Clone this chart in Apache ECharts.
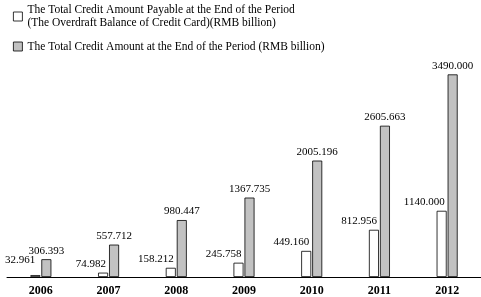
<!DOCTYPE html>
<html>
<head>
<meta charset="utf-8">
<script src="https://cdn.jsdelivr.net/npm/echarts@6/dist/echarts.min.js"></script>
<style>
  html, body { margin: 0; padding: 0; background: #fff; }
  #chart { width: 481px; height: 297px; }
</style>
</head>
<body>
<div id="chart"></div>
<script>
// 数据
var years = ["2006", "2007", "2008", "2009", "2010", "2011", "2012"];
var payable = [32.961, 74.982, 158.212, 245.758, 449.16, 812.956, 1140.0];
var total = [306.393, 557.712, 980.447, 1367.735, 2005.196, 2605.663, 3490.0];
var nameA = "The Total Credit Amount Payable at the End of the Period\n(The Overdraft Balance of Credit Card)(RMB billion)";
var nameB = "The Total Credit Amount at the End of the Period (RMB billion)";

(function () {
  var myChart = echarts.init(document.getElementById("chart"));
  var font = "'Liberation Serif', 'DejaVu Serif', serif";
  // 三位小数
  var fmt = function (p) {
    return Number(p.value).toFixed(3);
  };

  // 2006 的白色标签往左上挪，避免和灰色标签重叠
  var payableData = payable.map(function (v, i) {
    if (i === 0) return { value: v, label: { offset: [-5, -6] } };
    return v;
  });

  var option = {
    animation: false,
    textStyle: { fontFamily: font },
    legend: {
      orient: "vertical",
      left: 8,
      top: -8,
      itemWidth: 9,
      itemHeight: 9,
      itemGap: 4,
      icon: "rect",
      itemStyle: { borderWidth: 0.8 },
      textStyle: { fontFamily: font, fontSize: 11.5, color: "#000", lineHeight: 13 },
      data: [
        { name: nameA, textStyle: { padding: [13, 0, 0, 0] } },
        { name: nameB }
      ]
    },
    grid: { left: 7, right: 0, top: 68, bottom: 20 },
    xAxis: {
      type: "category",
      data: years,
      axisLine: { lineStyle: { color: "#000", width: 1 } },
      axisTick: { show: false },
      axisLabel: { color: "#000", fontFamily: font, fontSize: 12, fontWeight: "bold", margin: 8 }
    },
    yAxis: {
      type: "value",
      min: 0,
      max: 3600,
      show: false
    },
    series: [
      {
        name: nameA,
        type: "bar",
        barWidth: 10,
        barGap: "10%",
        data: payableData,
        itemStyle: { color: "#fff", borderColor: "#000", borderWidth: 0.8 },
        label: {
          show: true,
          formatter: fmt,
          position: ["100%", -3],
          align: "right",
          verticalAlign: "bottom",
          offset: [-2, 0],
          color: "#000",
          fontFamily: font,
          fontSize: 11
        }
      },
      {
        name: nameB,
        type: "bar",
        barWidth: 10,
        data: total,
        itemStyle: { color: "#c2c2c2", borderColor: "#000", borderWidth: 0.8 },
        label: {
          show: true,
          formatter: fmt,
          position: "top",
          distance: 3,
          color: "#000",
          fontFamily: font,
          fontSize: 11
        }
      }
    ]
  };
  myChart.setOption(option);
  window.addEventListener("resize", function () {
    myChart.resize();
  });
})();
</script>
</body>
</html>
